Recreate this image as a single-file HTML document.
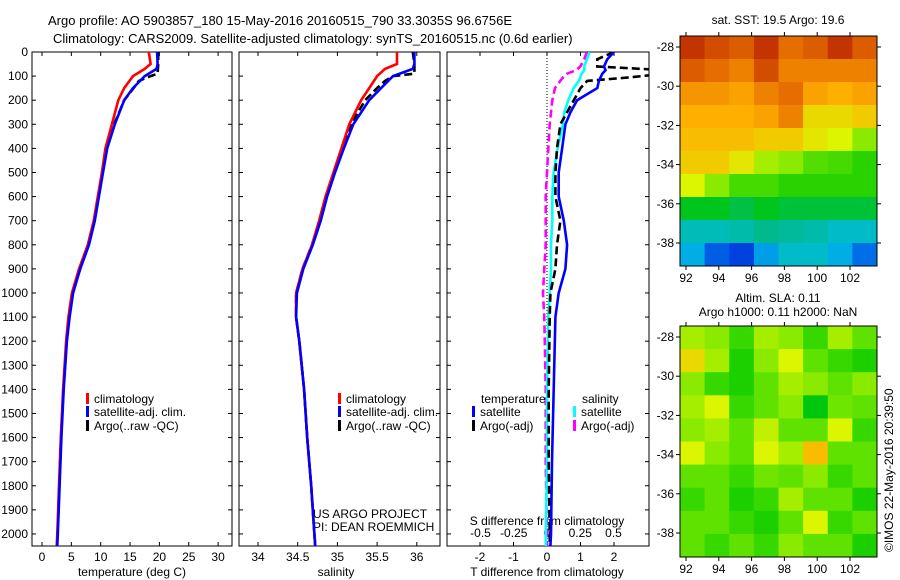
<!DOCTYPE html>
<html><head><meta charset="utf-8"><style>
body{margin:0;background:#fff}
svg{display:block;font-family:"Liberation Sans",sans-serif;font-size:12px}
</style></head><body>
<svg id="c" width="900" height="580" xmlns="http://www.w3.org/2000/svg">
<rect width="900" height="580" fill="#fff"/>
<text x="48" y="25" font-size="13">Argo profile: AO 5903857_180 15-May-2016 20160515_790 33.3035S 96.6756E</text>
<text x="53" y="43" font-size="13">Climatology: CARS2009. Satellite-adjusted climatology: synTS_20160515.nc (0.6d earlier)</text>
<g id="g"></g>
<text transform="translate(893,552) rotate(-90)" font-size="12">©IMOS 22-May-2016 20:39:50</text>
</svg>
<script>
// ---- data ----
const depthT=[0,50,70,100,150,200,300,400,500,600,700,800,900,1000,1100,1200,1400,1600,1800,2000,2050];
const tempClim=[18.2,18.5,17.5,15.5,14,13,11.9,10.8,10.2,9.5,8.8,7.8,6.3,5.1,4.5,4.1,3.6,3.2,2.9,2.6,2.5];
const tempSat=[19.6,19.7,19.5,17.5,15.5,14,12.4,11.1,10.4,9.7,9,8,6.5,5.3,4.7,4.25,3.7,3.3,3.0,2.7,2.6];
const depthArgo=[0,50,90,100,120,150,200,300,400,500,600,700,800,900,1000,1100,1200,1400,1600,1800,2000,2050];
const tempArgo=[19.8,19.8,19.7,18.5,16.5,15.6,14,12.3,11.0,10.3,9.6,8.9,7.9,6.5,5.2,4.6,4.2,3.65,3.25,2.95,2.65,2.55];
const salClim=[35.75,35.75,35.6,35.5,35.4,35.3,35.15,35.05,34.95,34.85,34.77,34.68,34.56,34.48,34.48,34.52,34.58,34.62,34.67,34.71,34.72];
const salSat=[35.97,35.97,35.95,35.7,35.55,35.4,35.2,35.08,34.97,34.87,34.79,34.69,34.57,34.49,34.48,34.52,34.58,34.62,34.67,34.71,34.72];
const salArgo=[35.95,35.97,35.97,35.7,35.6,35.5,35.35,35.17,35.06,34.96,34.86,34.78,34.68,34.56,34.48,34.48,34.52,34.58,34.62,34.67,34.71,34.72];
const depthD=[0,30,60,75,90,105,120,150,200,250,300,400,500,600,700,800,900,1000,1100,1400,1700,2000,2050];
const dTsat=[2.0,1.8,1.7,1.75,1.65,1.6,1.55,1.5,0.9,0.7,0.55,0.45,0.35,0.35,0.5,0.6,0.55,0.35,0.25,0.2,0.15,0.12,0.1];
const dTargo=[2.0,1.5,1.5,3.5,3.5,2.5,1.2,1.0,0.8,0.6,0.4,0.3,0.25,0.25,0.4,0.3,0.25,0.1,0.08,0.05,0.05,0.08,0.08];
const dSsat=[0.32,0.3,0.28,0.28,0.26,0.25,0.24,0.2,0.16,0.13,0.12,0.08,0.05,0.04,0.04,0.03,0.03,0.02,0.01,0.0,0.0,-0.01,-0.01];
const dSargo=[0.3,0.28,0.25,0.22,0.15,0.12,0.1,0.06,0.04,0.03,0.02,0.01,0.0,-0.01,-0.01,-0.01,-0.02,-0.03,-0.02,-0.01,-0.01,0.0,0.0];
const depthTicks=[0,100,200,300,400,500,600,700,800,900,1000,1100,1200,1300,1400,1500,1600,1700,1800,1900,2000];
const tempTicks=[0,5,10,15,20,25,30];
const salTicks=[34,34.5,35,35.5,36];
const dTTicks=[-2,-1,0,1,2];
const dSTicks=[-0.5,-0.25,0,0.25,0.5];
const sstGrid=[
[.95,.92,.9,.95,.88,.9,.95,.9],
[.9,.88,.85,.92,.85,.85,.85,.85],
[.82,.82,.8,.85,.88,.8,.78,.8],
[.78,.78,.78,.8,.85,.72,.72,.74],
[.76,.76,.76,.74,.74,.7,.68,.62],
[.74,.74,.7,.64,.62,.58,.57,.55],
[.68,.62,.57,.57,.55,.55,.55,.55],
[.5,.5,.47,.5,.48,.48,.48,.48],
[.36,.36,.38,.42,.4,.38,.34,.34],
[.28,.18,.14,.26,.34,.34,.28,.2]];
const slaGrid=[
[.64,.62,.56,.64,.62,.56,.64,.59],
[.72,.64,.54,.62,.68,.59,.56,.54],
[.62,.56,.54,.59,.64,.62,.59,.62],
[.64,.68,.56,.59,.62,.51,.6,.59],
[.62,.64,.59,.66,.59,.59,.68,.56],
[.68,.62,.59,.68,.64,.76,.59,.59],
[.59,.59,.56,.6,.59,.62,.56,.59],
[.56,.59,.54,.56,.64,.59,.59,.54],
[.59,.59,.56,.54,.59,.68,.56,.59],
[.59,.56,.59,.56,.62,.59,.59,.54]];
const lonTicks=[92,94,96,98,100,102];
const latTicks=[-28,-30,-32,-34,-36,-38];

// ---- drawing ----
const NS="http://www.w3.org/2000/svg";
const G=document.getElementById('g');
function el(t,a,p){const e=document.createElementNS(NS,t);for(const k in a)e.setAttribute(k,a[k]);(p||G).appendChild(e);return e;}
const Y0=52,YB=546;
const yD=d=>Y0+d*(YB-Y0)/2050;
const P1={l:32,r:232},P2={l:239,r:440},P3={l:447,r:649};
const xT=v=>42+5.87*v, xS=v=>258+79.4*(v-34), xdT=v=>547+33.5*v, xdS=v=>547+133*v;

function frame(P,name,xf,ticks,labels){
  const f=el('rect',{x:P.l,y:Y0,width:P.r-P.l,height:YB-Y0,fill:'none',stroke:'#000'});
  
  
  depthTicks.forEach(d=>{const y=yD(d);
    el('line',{x1:P.l,x2:P.l+4,y1:y,y2:y,stroke:'#000'});el('line',{x1:P.r-4,x2:P.r,y1:y,y2:y,stroke:'#000'});});
  if(ticks) ticks.forEach(v=>{const x=xf(v);
    el('line',{x1:x,x2:x,y1:YB,y2:YB-4,stroke:'#000'});el('line',{x1:x,x2:x,y1:Y0,y2:Y0+4,stroke:'#000'});
    if(labels){const t=el('text',{x:x,y:YB+15,'text-anchor':'middle'});t.textContent=String(v);
      
      }});
}
frame(P1,'temperature-panel',xT,tempTicks,true);
frame(P2,'salinity-panel',xS,salTicks,true);
frame(P3,'difference-panel',xdT,dTTicks,true);
depthTicks.forEach(d=>{const t=el('text',{x:28,y:yD(d)+4,'text-anchor':'end'});t.textContent=d;
  
  });
dSTicks.forEach(v=>{const t=el('text',{x:xdS(v),y:YB-9,'text-anchor':'middle'});t.textContent=String(v);
  
  });
function txt(x,y,s,name,anchor){const t=el('text',{x:x,y:y,'text-anchor':anchor||'start'});t.textContent=s;
  
  return t;}
txt(132,576,'temperature (deg C)','temperature-axis-title','middle');
txt(336,576,'salinity','salinity-axis-title','middle');
txt(547,576,'T difference from climatology','t-diff-axis-title','middle');
txt(547,525,'S difference from climatology','s-diff-axis-title','middle');
txt(313,518,'US ARGO PROJECT','project-label');
txt(313,531,'PI: DEAN ROEMMICH','pi-label');
el('line',{x1:xdT(0),x2:xdT(0),y1:Y0,y2:YB,stroke:'#000','stroke-dasharray':'1,2'});

const clipP=el('clipPath',{id:'cp3'});el('rect',{x:P3.l,y:Y0,width:P3.r-P3.l,height:YB-Y0},clipP);
function line(depths,vals,xf,col,name,dash,clip){
  const pts=vals.map((v,i)=>xf(v).toFixed(1)+','+yD(depths[i]).toFixed(1)).join(' ');
  const a={points:pts,fill:'none',stroke:col,'stroke-width':2.6};
  if(dash)a['stroke-dasharray']=dash; if(clip)a['clip-path']='url(#cp3)';
  const p=el('polyline',a);
  
  
}
line(depthArgo,tempArgo,xT,'#000','temp-argo-line','8,4');
line(depthT,tempClim,xT,'#f00','temp-climatology-line');
line(depthT,tempSat,xT,'#00f','temp-satellite-line');
line(depthArgo,salArgo,xS,'#000','sal-argo-line','8,4');
line(depthT,salClim,xS,'#f00','sal-climatology-line');
line(depthT,salSat,xS,'#00f','sal-satellite-line');
line(depthD,dSargo,xdS,'#f0f','s-diff-argo-line','8,4',1);
line(depthD,dSsat,xdS,'#0ff','s-diff-satellite-line',null,1);
line(depthD,dTargo,xdT,'#000','t-diff-argo-line','8,4',1);
line(depthD,dTsat,xdT,'#00f','t-diff-satellite-line',null,1);

function legend(x,y,col,label,name){const r=el('rect',{x:x,y:y-10,width:3,height:11,fill:col});
  
  
  txt(x+8,y,label,name);}
legend(86,403,'#f00','climatology','legend-t-climatology');
legend(86,416,'#00f','satellite-adj. clim.','legend-t-satellite');
legend(86,430,'#000','Argo(..raw -QC)','legend-t-argo');
legend(338,403,'#f00','climatology','legend-s-climatology');
legend(338,416,'#00f','satellite-adj. clim.','legend-s-satellite');
legend(338,430,'#000','Argo(..raw -QC)','legend-s-argo');
txt(481,403,'temperature','legend-temperature-heading');
txt(582,403,'salinity','legend-salinity-heading');
legend(472,416,'#00f','satellite','legend-dt-satellite');
legend(472,430,'#000','Argo(-adj)','legend-dt-argo');
legend(573,416,'#0ff','satellite','legend-ds-satellite');
legend(573,430,'#f0f','Argo(-adj)','legend-ds-argo');

// ---- maps ----
const cmapStops=[[0,[0,0,140]],[0.15,[0,70,230]],[0.3,[0,190,230]],[0.42,[0,185,140]],[0.52,[0,200,0]],[0.6,[110,230,0]],[0.68,[220,245,0]],[0.78,[255,175,0]],[0.88,[230,110,0]],[1,[170,10,0]]];
function cmap(v){for(let i=1;i<cmapStops.length;i++){const a=cmapStops[i-1],b=cmapStops[i];
  if(v<=b[0]){const f=(v-a[0])/(b[0]-a[0]);return 'rgb('+a[1].map((c,k)=>Math.round(c+(b[1][k]-c)*f)).join(',')+')';}}
  return 'rgb(170,10,0)';}
const ML=680,MR=877;
const xLon=l=>686+(l-92)*16.4;
function map(grid,top,bot,name){
  const rows=grid.length,cols=grid[0].length,cw=(MR-ML)/cols,ch=(bot-top)/rows;
  const g=el('g',{});
  grid.forEach((row,i)=>row.forEach((v,j)=>{const c=el('rect',{x:ML+j*cw,y:top+i*ch,width:cw+0.5,height:ch+0.5,fill:cmap(v)},g);
    
    }));
  el('rect',{x:ML,y:top,width:MR-ML,height:bot-top,fill:'none',stroke:'#000'});
  const yL=l=>top+11+(-28-l)*19.6;
  lonTicks.forEach(l=>{const x=xLon(l);el('line',{x1:x,x2:x,y1:bot,y2:bot+4,stroke:'#000'});el('line',{x1:x,x2:x,y1:top,y2:top-4,stroke:'#000'});
    txt(x,bot+16,String(l),name+'-lon-label','middle');});
  latTicks.forEach(l=>{const y=yL(l);el('line',{x1:ML-4,x2:ML,y1:y,y2:y,stroke:'#000'});el('line',{x1:MR,x2:MR+4,y1:y,y2:y,stroke:'#000'});
    txt(ML-6,y+4,String(l),name+'-lat-label','end');});
}
map(sstGrid,36,266,'sst-map');
map(slaGrid,326,557,'sla-map');
txt(778,24,'sat. SST: 19.5 Argo: 19.6','sst-map-title','middle');
txt(778,302,'Altim. SLA: 0.11','sla-map-title','middle');
txt(778,316,'Argo h1000: 0.11 h2000: NaN','sla-map-subtitle','middle');
</script>
</body></html>
